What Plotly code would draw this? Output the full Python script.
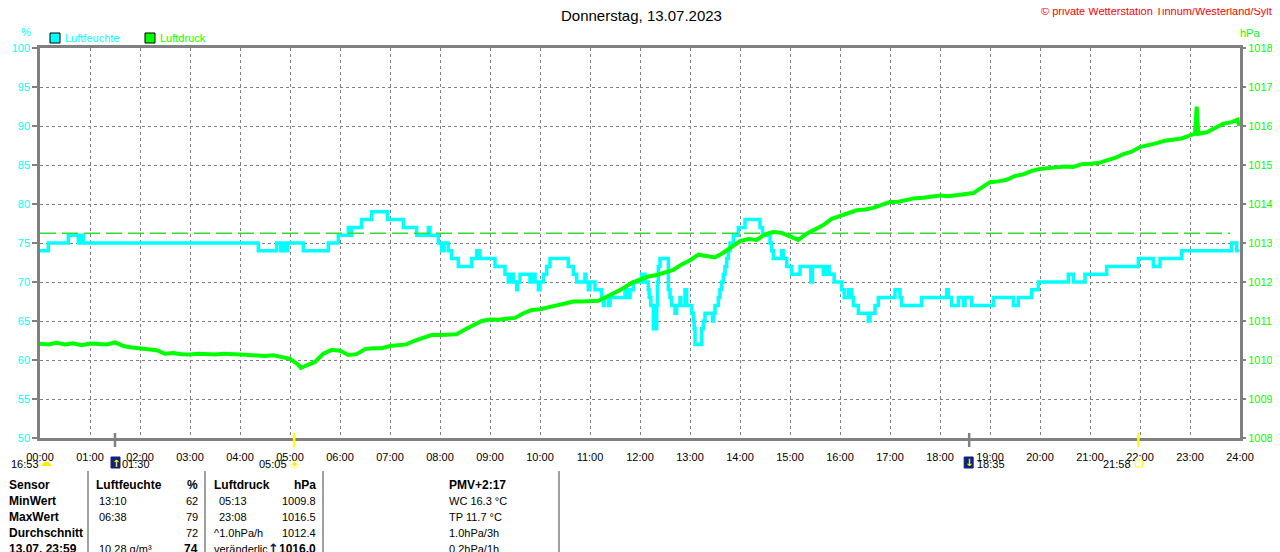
import plotly.graph_objects as go

# --- data (Donnerstag, 13.07.2023) ---
# Luftfeuchte: step changes (time, %)
hum_times = ["00:00", "00:10", "00:34", "00:46", "00:50", "00:52", "04:22", "04:44", "04:49", "04:51",
             "04:55", "04:57", "05:16", "05:46", "05:58", "06:10", "06:12", "06:14", "06:26", "06:38",
             "06:57", "07:16", "07:32", "07:46", "07:48", "07:58", "08:02", "08:05", "08:10", "08:14",
             "08:22", "08:38", "08:44", "08:48", "09:06", "09:18", "09:22", "09:26", "09:28", "09:32",
             "09:33", "09:36", "09:48", "09:52", "09:54", "09:58", "10:00", "10:04", "10:08", "10:12",
             "10:34", "10:40", "10:44", "10:54", "10:55", "10:58", "11:00", "11:06", "11:14", "11:16",
             "11:17", "11:22", "11:24", "11:42", "11:46", "11:48", "11:52", "12:02", "12:06", "12:10",
             "12:11", "12:13", "12:16", "12:20", "12:21", "12:22", "12:24", "12:34", "12:36", "12:38",
             "12:42", "12:44", "12:48", "12:49", "12:54", "12:56", "13:02", "13:04", "13:05", "13:06",
             "13:14", "13:16", "13:18", "13:27", "13:28", "13:30", "13:34", "13:36", "13:38", "13:40",
             "13:42", "13:44", "13:46", "13:48", "13:52", "13:58", "14:06", "14:24", "14:27", "14:36",
             "14:38", "14:40", "14:50", "14:52", "14:56", "15:02", "15:12", "15:25", "15:27", "15:40",
             "15:44", "15:47", "15:53", "16:02", "16:05", "16:10", "16:14", "16:16", "16:22", "16:34",
             "16:36", "16:42", "16:46", "17:06", "17:12", "17:14", "17:38", "18:08", "18:10", "18:14",
             "18:22", "18:28", "18:30", "18:38", "19:04", "19:28", "19:34", "19:50", "19:58", "20:34",
             "20:40", "20:54", "21:20", "21:58", "22:16", "22:24", "22:50", "23:50", "23:56", "23:59"]
hum_values = [74, 75, 76, 75, 76, 75, 74, 75, 74, 75,
              74, 75, 74, 75, 76, 77, 76, 77, 78, 79,
              78, 77, 76, 77, 76, 75, 74, 75, 74, 73,
              72, 73, 74, 73, 72, 71, 70, 71, 70, 69,
              70, 71, 70, 71, 70, 69, 70, 71, 72, 73,
              72, 71, 70, 71, 70, 69, 70, 69, 68, 67,
              68, 67, 68, 69, 68, 69, 70, 71, 70, 69,
              68, 67, 64, 67, 70, 72, 73, 69, 68, 67,
              66, 67, 68, 67, 69, 67, 66, 65, 64, 62,
              64, 65, 66, 65, 66, 67, 68, 69, 70, 71,
              72, 73, 74, 75, 76, 77, 78, 77, 76, 75,
              74, 73, 74, 73, 72, 71, 72, 70, 72, 71,
              72, 71, 70, 69, 68, 69, 68, 67, 66, 65,
              66, 67, 68, 69, 68, 67, 68, 69, 68, 67,
              68, 67, 68, 67, 68, 67, 68, 69, 70, 71,
              70, 71, 72, 73, 72, 73, 74, 75, 74, 74]

# Luftdruck: readings (time, hPa)
press_times = ["00:00", "00:10", "00:20", "00:30", "00:40", "00:50", "01:00", "01:10", "01:20", "01:30",
               "01:40", "01:50", "02:00", "02:10", "02:20", "02:30", "02:40", "02:50", "03:00", "03:10",
               "03:20", "03:30", "03:40", "03:50", "04:00", "04:10", "04:20", "04:30", "04:40", "04:50",
               "05:00", "05:10", "05:13", "05:20", "05:30", "05:40", "05:50", "06:00", "06:10", "06:20",
               "06:30", "06:40", "06:50", "07:00", "07:10", "07:20", "07:30", "07:40", "07:50", "08:00",
               "08:10", "08:20", "08:30", "08:40", "08:50", "09:00", "09:10", "09:20", "09:30", "09:40",
               "09:50", "10:00", "10:10", "10:20", "10:30", "10:40", "10:50", "11:00", "11:10", "11:20",
               "11:30", "11:40", "11:50", "12:00", "12:10", "12:20", "12:30", "12:40", "12:50", "13:00",
               "13:10", "13:20", "13:30", "13:40", "13:50", "14:00", "14:10", "14:20", "14:30", "14:40",
               "14:50", "15:00", "15:10", "15:20", "15:30", "15:40", "15:50", "16:00", "16:10", "16:20",
               "16:30", "16:40", "16:50", "17:00", "17:10", "17:20", "17:30", "17:40", "17:50", "18:00",
               "18:10", "18:20", "18:30", "18:40", "18:50", "19:00", "19:10", "19:20", "19:30", "19:40",
               "19:50", "20:00", "20:10", "20:20", "20:30", "20:40", "20:50", "21:00", "21:10", "21:20",
               "21:30", "21:40", "21:50", "22:00", "22:10", "22:20", "22:30", "22:40", "22:50", "23:00",
               "23:06", "23:08", "23:10", "23:20", "23:30", "23:40", "23:50", "23:57", "23:59"]
press_values = [1010.42, 1010.40, 1010.44, 1010.40, 1010.43, 1010.38, 1010.42, 1010.41, 1010.40, 1010.45,
                1010.36, 1010.32, 1010.30, 1010.26, 1010.25, 1010.16, 1010.18, 1010.15, 1010.14, 1010.16,
                1010.15, 1010.14, 1010.16, 1010.14, 1010.14, 1010.13, 1010.12, 1010.10, 1010.12, 1010.08,
                1010.03, 1009.88, 1009.80, 1009.86, 1009.95, 1010.16, 1010.26, 1010.24, 1010.13, 1010.15,
                1010.28, 1010.30, 1010.30, 1010.36, 1010.38, 1010.40, 1010.50, 1010.58, 1010.64, 1010.64,
                1010.65, 1010.66, 1010.78, 1010.90, 1011.00, 1011.04, 1011.03, 1011.06, 1011.08, 1011.20,
                1011.28, 1011.30, 1011.36, 1011.40, 1011.45, 1011.50, 1011.50, 1011.50, 1011.52, 1011.62,
                1011.72, 1011.84, 1011.98, 1012.05, 1012.14, 1012.18, 1012.24, 1012.31, 1012.45, 1012.56,
                1012.70, 1012.66, 1012.63, 1012.75, 1012.90, 1013.05, 1013.10, 1013.08, 1013.22, 1013.28,
                1013.26, 1013.18, 1013.08, 1013.24, 1013.36, 1013.46, 1013.62, 1013.70, 1013.78, 1013.84,
                1013.86, 1013.90, 1013.98, 1014.05, 1014.06, 1014.10, 1014.15, 1014.16, 1014.20, 1014.22,
                1014.20, 1014.22, 1014.26, 1014.28, 1014.42, 1014.56, 1014.58, 1014.62, 1014.72, 1014.76,
                1014.85, 1014.90, 1014.92, 1014.95, 1014.96, 1014.95, 1015.02, 1015.03, 1015.05, 1015.12,
                1015.18, 1015.28, 1015.34, 1015.46, 1015.50, 1015.56, 1015.62, 1015.64, 1015.68, 1015.76,
                1015.80, 1016.50, 1015.80, 1015.84, 1015.94, 1016.06, 1016.10, 1016.16, 1016.00]

normal_pressure = 1013.25

hour_labels = ["%02d:00" % h for h in range(25)]

# sun / moon events on the time axis
event_times = ["01:30", "05:05", "18:35", "21:58"]
event_kinds = ["moonrise", "sunrise", "moonset", "sunset"]
sunshine_text = "16:53"

# statistics table below the chart
table_rows = [
    ["Sensor", "Luftfeuchte", "%", "Luftdruck", "hPa", "PMV+2:17"],
    ["MinWert", "13:10", "62", "05:13", "1009.8", "WC 16.3 °C"],
    ["MaxWert", "06:38", "79", "23:08", "1016.5", "TP 11.7 °C"],
    ["Durchschnitt", "", "72", "^1.0hPa/h", "1012.4", "1.0hPa/3h"],
    ["13.07. 23:59", "10.28 g/m³", "74", "veränderlich", "1016.0", "0.2hPa/1h"],
]

title_text = "Donnerstag, 13.07.2023"
copyright_text = "© private Wetterstation Tinnum/Westerland/Sylt"

CYAN = "#00ffff"
GREEN = "#00ff00"
GRAY = "#808080"
FONT = "Liberation Sans, Arial, sans-serif"

# page body has an 8px margin, so the figure is shrunk by that much
BODY = 8
W, H = 1280 - BODY, 552 - BODY
# plot area in window pixels
L, R, T, B = 40, 1240, 48, 438


def to_hours(s):
    h, m = s.split(":")
    return int(h) + int(m) / 60.0


def px(x):
    return (x - L) / (R - L)


def py(y):
    return (B - y) / (B - T)


fig = go.Figure()

fig.add_trace(go.Scatter(x=[0, 23.8], y=[normal_pressure, normal_pressure], yaxis="y2", mode="lines",
                         line=dict(color="#33dd33", width=1.5, dash="16px,6px"), hoverinfo="skip"))
fig.add_trace(go.Scatter(x=[to_hours(t) for t in hum_times], y=hum_values, mode="lines", name="Luftfeuchte",
                         line=dict(color=CYAN, width=3.5, shape="hv")))
fig.add_trace(go.Scatter(x=[to_hours(t) for t in press_times], y=press_values, yaxis="y2", mode="lines",
                         name="Luftdruck", line=dict(color=GREEN, width=4)))

annotations = []
shapes = []


def text(x, y, s, color="black", size=11, anchor="left", bold=False, family=FONT, bg=None):
    a = dict(x=px(x), y=py(y), xref="paper", yref="paper", text="<b>%s</b>" % s if bold else s,
             showarrow=False, xanchor=anchor, yanchor="middle",
             font=dict(family=family, size=size, color=color), borderpad=0)
    if bg:
        a["bgcolor"] = bg
    annotations.append(a)


def rect(x0, y0, x1, y1, fill, line="black", lw=1):
    shapes.append(dict(type="rect", xref="paper", yref="paper", x0=px(x0), x1=px(x1), y0=py(y0), y1=py(y1),
                       fillcolor=fill, line=dict(color=line, width=lw), layer="above"))


# title, copyright, units, legend
text(641, 15, title_text, size=15, anchor="center")
text(1273, 11, copyright_text, color="#ff0000", size=11, anchor="right")
text(26, 32, "%", color=CYAN, size=11, anchor="center")
text(1250, 33, "hPa", color=GREEN, size=11, anchor="center")
rect(50, 33, 60, 43, CYAN)
text(64, 38, "Luftfeuchte", color=CYAN, size=11)
rect(145, 33, 155, 43, GREEN)
text(159, 38, "Luftdruck", color=GREEN, size=11)

# event ticks and labels under the time axis
for t, kind in zip(event_times, event_kinds):
    h = to_hours(t)
    xp = L + h * (R - L) / 24
    col = "#ffff00" if kind.startswith("sun") else GRAY
    shapes.append(dict(type="line", xref="x", yref="paper", x0=h, x1=h, y0=py(433), y1=py(447),
                       line=dict(color=col, width=2.5), layer="above"))
    if kind == "moonrise":
        rect(xp - 4, 457, xp + 5, 468, "#102080", line="#102080")
        text(xp + 1, 463, "↑", color="#ffff00", size=10, anchor="center", bold=True, family="DejaVu Sans")
        text(xp + 6, 464, t)
    elif kind == "moonset":
        rect(xp - 5, 457, xp + 4, 468, "#102080", line="#102080")
        text(xp, 462, "↓", color="#ffff00", size=10, anchor="center", bold=True, family="DejaVu Sans")
        text(xp + 7, 464, t)
    elif kind == "sunrise":
        text(xp + 1, 464, "☀", color="#ffee00", size=13, anchor="center", family="DejaVu Sans")
        text(xp - 6, 464, t, anchor="right")
    else:
        rect(xp - 3, 460, xp + 4, 467, "white", line="#ffff00")
        text(xp - 6, 464, t, anchor="right")

text(10, 464, sunshine_text)
text(46, 462, "☁", color="#ffee00", size=12, anchor="center", family="DejaVu Sans")

# table
for x in [88, 205, 323, 559, 1279]:
    shapes.append(dict(type="line", xref="paper", yref="paper", x0=px(x), x1=px(x), y0=py(471), y1=py(552),
                       line=dict(color=GRAY, width=1.5)))
row_y = [485, 501, 517, 533, 549]
for i, row in enumerate(table_rows):
    y = row_y[i]
    head = i == 0
    text(8, y, row[0], size=12, bold=True)
    text(95 if head else 98, y, row[1], size=12 if head else 11, bold=head)
    text(199, y, row[2], size=12 if head or i == 4 else 11, anchor="right", bold=head or i == 4)
    text(213 if head or i >= 3 else 218, y, row[3], size=12 if head else 11, bold=head)
    text(317, y, row[4], size=12 if head or i == 4 else 11, anchor="right", bold=head or i == 4)
    text(448, y, row[5], size=12 if head else 11, bold=head)
text(273, 548, "↑", color="#102060", size=13, anchor="center", bold=True, family="DejaVu Sans", bg="white")

fig.update_layout(
    template="none",
    width=W, height=H,
    margin=dict(l=L - BODY, r=W - (R - BODY), t=T - BODY, b=H - (B - BODY), pad=0, autoexpand=False),
    paper_bgcolor="white", plot_bgcolor="white",
    showlegend=False,
    font=dict(family=FONT, size=11, color="black"),
    xaxis=dict(range=[0, 24], tickvals=list(range(25)), ticktext=hour_labels, automargin=False,
               showgrid=True, gridcolor=GRAY, griddash="3px,3px", gridwidth=1,
               showline=True, linecolor=GRAY, linewidth=2.5, mirror=True,
               ticks="outside", ticklen=7, tickcolor="rgba(0,0,0,0)",
               tickfont=dict(family=FONT, size=11, color="black"), zeroline=False, fixedrange=True),
    yaxis=dict(range=[50, 100], dtick=5, automargin=False,
               showgrid=True, gridcolor=GRAY, griddash="3px,3px", gridwidth=1,
               showline=True, linecolor=GRAY, linewidth=2.5, mirror=True,
               ticks="outside", ticklen=5, tickcolor=GRAY, tickwidth=1.5,
               tickfont=dict(family=FONT, size=11, color=CYAN), zeroline=False),
    yaxis2=dict(range=[1008, 1018], dtick=1, overlaying="y", side="right", showgrid=False, automargin=False,
                ticks="outside", ticklen=5, tickcolor=GRAY, tickwidth=1.5,
                tickfont=dict(family=FONT, size=11, color=GREEN), zeroline=False),
    annotations=annotations,
    shapes=shapes,
)

fig.write_html("out.html")
